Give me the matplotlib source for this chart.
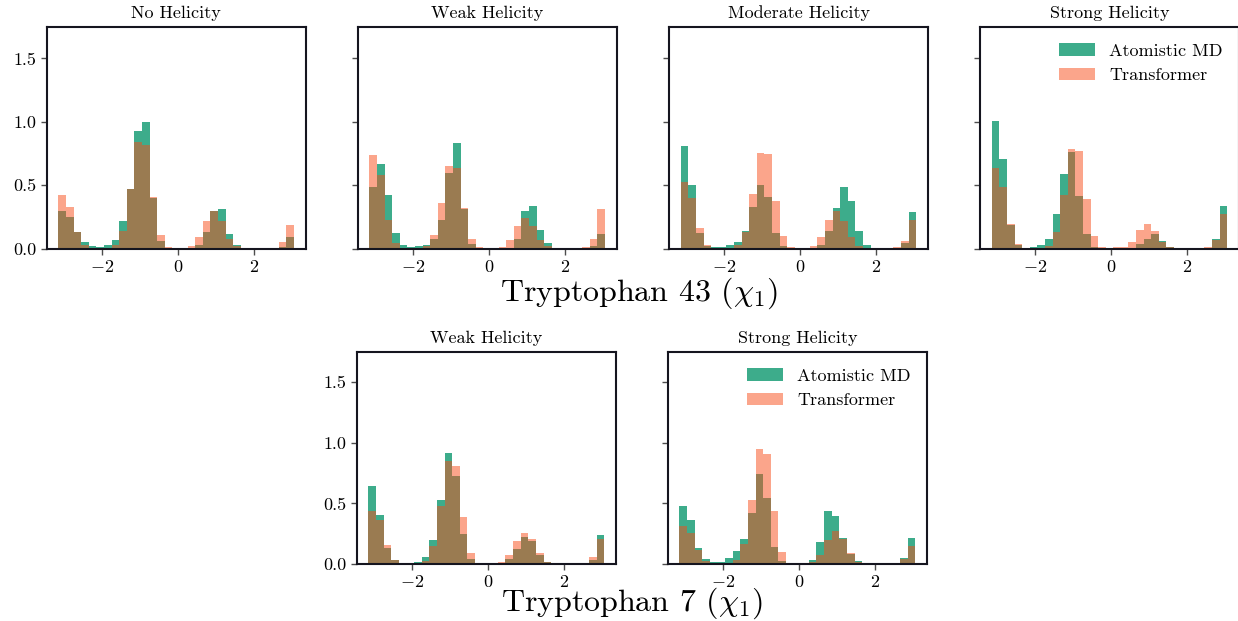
# Tryptophan chi1 histograms: atomistic MD vs transformer, by helicity level
import numpy as np
import matplotlib
matplotlib.use("Agg")
import matplotlib.pyplot as plt

plt.rcParams["font.family"] = "serif"
plt.rcParams["font.serif"] = ["cmr10"]
plt.rcParams["mathtext.fontset"] = "cm"
plt.rcParams["axes.formatter.use_mathtext"] = True
plt.rcParams["axes.unicode_minus"] = True

# bin edges used for the chi1 angle (radians)
bin_edges = np.arange(-np.pi, np.pi, 0.2)
bin_centers = 0.5 * (bin_edges[:-1] + bin_edges[1:])

# ---- Tryptophan 43 ----
titles_43 = ["No Helicity", "Weak Helicity", "Moderate Helicity", "Strong Helicity"]
md_43_none = [0.30, 0.25, 0.13, 0.05, 0.018, 0.01, 0.026, 0.066, 0.216, 0.47, 0.926,
              1.0, 0.40, 0.06, 0.0, 0.0, 0.0, 0.0, 0.026, 0.13, 0.30, 0.31, 0.113,
              0.026, 0.005, 0.0, 0.0, 0.0, 0.003, 0.01, 0.09]
tf_43_none = [0.42, 0.33, 0.13, 0.026, 0.005, 0.0, 0.005, 0.026, 0.137, 0.47, 0.84,
              0.82, 0.41, 0.105, 0.01, 0.0, 0.003, 0.018, 0.09, 0.22, 0.295, 0.215,
              0.08, 0.02, 0.005, 0.0, 0.0, 0.0, 0.005, 0.05, 0.184]
md_43_weak = [0.49, 0.67, 0.42, 0.12, 0.026, 0.01, 0.018, 0.026, 0.08, 0.23, 0.60,
              0.83, 0.31, 0.034, 0.0, 0.0, 0.0, 0.0, 0.0, 0.074, 0.30, 0.334, 0.145,
              0.042, 0.003, 0.0, 0.0, 0.0, 0.003, 0.018, 0.113]
tf_43_weak = [0.737, 0.58, 0.226, 0.042, 0.005, 0.005, 0.005, 0.018, 0.108, 0.358,
              0.65, 0.634, 0.318, 0.08, 0.01, 0.0, 0.003, 0.01, 0.066, 0.176, 0.24,
              0.18, 0.068, 0.021, 0.003, 0.0, 0.0, 0.0, 0.01, 0.074, 0.31]
md_43_mod = [0.81, 0.50, 0.12, 0.018, 0.01, 0.01, 0.026, 0.05, 0.137, 0.326, 0.50,
             0.405, 0.12, 0.018, 0.0, 0.0, 0.0, 0.0, 0.026, 0.137, 0.318, 0.484,
             0.374, 0.137, 0.026, 0.0, 0.0, 0.0, 0.0, 0.042, 0.287]
tf_43_mod = [0.524, 0.40, 0.16, 0.026, 0.003, 0.0, 0.005, 0.026, 0.13, 0.43, 0.753,
             0.745, 0.374, 0.097, 0.01, 0.0, 0.003, 0.018, 0.09, 0.224, 0.30, 0.216,
             0.09, 0.018, 0.0, 0.0, 0.0, 0.0, 0.01, 0.058, 0.23]
md_43_strong = [1.005, 0.705, 0.184, 0.026, 0.0, 0.01, 0.026, 0.08, 0.27, 0.587, 0.76,
                0.413, 0.113, 0.01, 0.0, 0.0, 0.0, 0.0, 0.0, 0.034, 0.08, 0.113,
                0.058, 0.01, 0.0, 0.0, 0.0, 0.0, 0.0, 0.074, 0.334]
tf_43_strong = [0.634, 0.484, 0.192, 0.034, 0.0, 0.0, 0.0, 0.018, 0.13, 0.42, 0.784,
                0.768, 0.39, 0.097, 0.01, 0.0, 0.01, 0.01, 0.05, 0.145, 0.192, 0.137,
                0.05, 0.01, 0.0, 0.0, 0.0, 0.0, 0.01, 0.068, 0.27]

# ---- Tryptophan 7 ----
titles_7 = ["Weak Helicity", "Strong Helicity"]
md_7_weak = [0.644, 0.405, 0.132, 0.033, 0.008, 0.008, 0.017, 0.058, 0.198, 0.528,
             0.917, 0.727, 0.248, 0.041, 0.005, 0.0, 0.0, 0.0, 0.041, 0.124, 0.223,
             0.19, 0.074, 0.017, 0.0, 0.0, 0.0, 0.0, 0.003, 0.033, 0.24]
tf_7_weak = [0.438, 0.363, 0.157, 0.033, 0.003, 0.0, 0.005, 0.025, 0.149, 0.479,
             0.85, 0.809, 0.388, 0.091, 0.008, 0.0, 0.003, 0.017, 0.074, 0.19, 0.256,
             0.21, 0.091, 0.017, 0.0, 0.0, 0.0, 0.0, 0.008, 0.058, 0.206]
md_7_strong = [0.479, 0.363, 0.132, 0.041, 0.017, 0.017, 0.05, 0.107, 0.206, 0.421,
               0.743, 0.545, 0.14, 0.025, 0.005, 0.0, 0.0, 0.033, 0.182, 0.438, 0.396,
               0.215, 0.083, 0.025, 0.008, 0.0, 0.0, 0.0, 0.005, 0.05, 0.215]
tf_7_strong = [0.314, 0.256, 0.116, 0.025, 0.008, 0.0, 0.008, 0.033, 0.165, 0.528,
               0.95, 0.908, 0.438, 0.099, 0.005, 0.0, 0.0, 0.017, 0.074, 0.198, 0.272,
               0.206, 0.091, 0.017, 0.008, 0.0, 0.0, 0.0, 0.008, 0.041, 0.149]

md_color = "#1b9e77"
tf_color = "#f84c18"

W, H = 1238, 621
fig = plt.figure(figsize=(W / 100, H / 100), dpi=100)


def px_axes(left, top, width, height):
    return fig.add_axes([left / W, 1 - (top + height) / H, width / W, height / H])


def draw(ax, md, tf, title, show_y, legend):
    ax.hist(bin_centers, bins=bin_edges, weights=md, color=md_color, alpha=0.85,
            label="Atomistic MD")
    ax.hist(bin_centers, bins=bin_edges, weights=tf, color=tf_color, alpha=0.5,
            label="Transformer")
    ax.set_ylim(0, 1.75)
    ax.set_yticks([0.0, 0.5, 1.0, 1.5])
    ax.set_xticks([-2, 0, 2])
    ax.set_title(title, fontsize=13, pad=6)
    ax.tick_params(labelsize=13, length=4, width=1, color="0.3")
    if not show_y:
        ax.tick_params(labelleft=False)
    else:
        ax.set_yticklabels(["0.0", "0.5", "1.0", "1.5"])
    for s in ax.spines.values():
        s.set_linewidth(1.5)
        s.set_color("#15151f")
    if legend:
        ax.legend(loc="upper right", frameon=False, fontsize=13)


top_lefts = [46.7, 357.7, 669, 980]
top_md = [md_43_none, md_43_weak, md_43_mod, md_43_strong]
top_tf = [tf_43_none, tf_43_weak, tf_43_mod, tf_43_strong]
for i in range(4):
    ax = px_axes(top_lefts[i], 26.7, 259, 222)
    draw(ax, top_md[i], top_tf[i], titles_43[i], i == 0, i == 3)

bot_lefts = [356.7, 667.7]
bot_md = [md_7_weak, md_7_strong]
bot_tf = [tf_7_weak, tf_7_strong]
for i in range(2):
    ax = px_axes(bot_lefts[i], 351.7, 259.5, 212.3)
    draw(ax, bot_md[i], bot_tf[i], titles_7[i], i == 0, i == 1)

fig.text(639 / W, 1 - 293 / H, r"Tryptophan 43 ($\chi_1$)", fontsize=23,
         ha="center", va="center")
fig.text(632 / W, 1 - 603 / H, r"Tryptophan 7 ($\chi_1$)", fontsize=23,
         ha="center", va="center")

fig.savefig("out.png", dpi=100)
